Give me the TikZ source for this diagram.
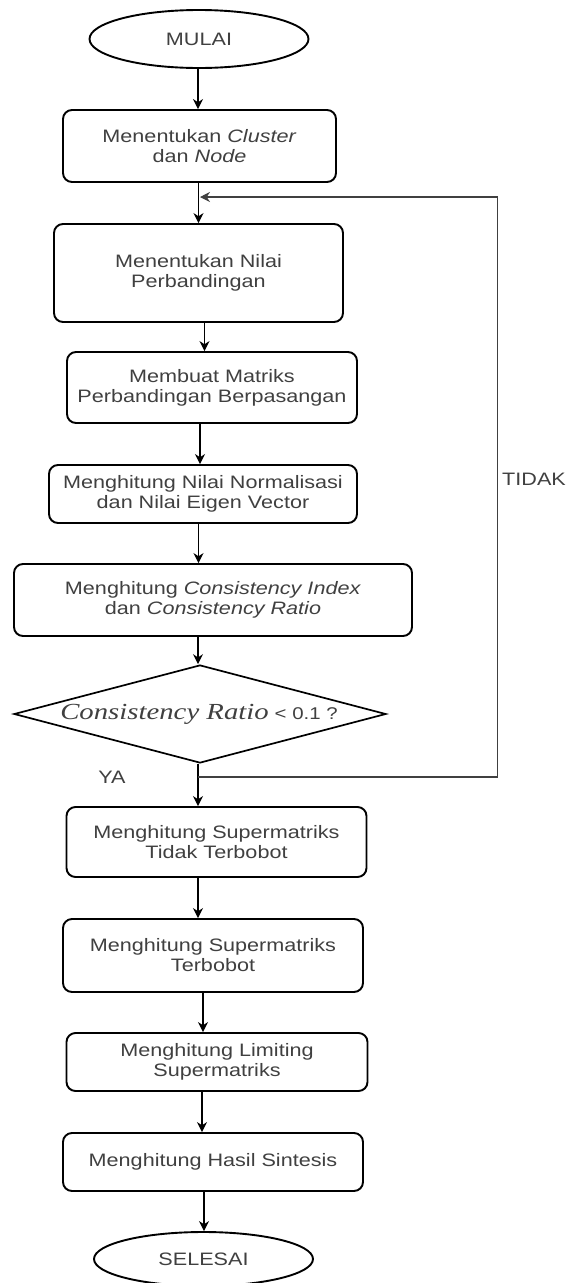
\documentclass[tikz,border=0pt]{standalone}
\usepackage{fontspec}
\setmainfont{Liberation Sans}[FakeStretch=1.2]
\newfontfamily\seriffont{Liberation Serif}[FakeStretch=1.25]
\usetikzlibrary{shapes.geometric,arrows.meta}
\newcommand\fs{\fontsize{18}{20}\selectfont}
\tikzset{
  proc/.style={draw=black, line width=1.9pt, rounded corners=9pt, inner sep=0pt, align=center, text=black!75, font=\fs},
  term/.style={ellipse, draw=black, line width=1.9pt, inner sep=0pt, text=black!75, font=\fs},
  decision/.style={diamond, draw=black, line width=1.7pt, inner sep=0pt},
  arr/.style={-{Stealth[length=10pt,width=10pt]}, line width=1.4pt},
  fb/.style={line width=1.1pt, draw=black!75},
  lbl/.style={text=black!75, font=\fs, inner sep=0pt}
}
\begin{document}
\begin{tikzpicture}[x=1pt,y=-1pt]
\useasboundingbox[fill=white] (0,0) rectangle (566,1283);
\node[term, minimum width=219pt, minimum height=58pt] (m) at (199,39) {MULAI};
\node[proc, minimum width=273pt, minimum height=72pt] (b1) at (199.5,146) {Menentukan \textit{Cluster}\\dan \textit{Node}};
\node[proc, minimum width=289pt, minimum height=98pt] (b2) at (198.5,273) {Menentukan Nilai\\Perbandingan};
\node[proc, minimum width=290pt, minimum height=71pt] (b3) at (212,387.5) {Membuat Matriks\\Perbandingan Berpasangan};
\node[proc, minimum width=308pt, minimum height=58pt] (b4) at (203,494) {Menghitung Nilai Normalisasi\\dan Nilai Eigen Vector};
\node[proc, minimum width=398pt, minimum height=72pt] (b5) at (213,600) {Menghitung \textit{Consistency Index}\\dan \textit{Consistency Ratio}};
\node[decision, minimum width=372pt, minimum height=98pt] (d) at (200,714) {};
\node[lbl] (dl) at (199,714) {{\seriffont\itshape\fontsize{23}{26}\selectfont Consistency Ratio} {\fontsize{17}{18}\selectfont < 0.1 ?}};
\node[proc, minimum width=300pt, minimum height=70pt] (b6) at (216.5,842) {Menghitung Supermatriks\\Tidak Terbobot};
\node[proc, minimum width=300pt, minimum height=73pt] (b7) at (213,955.5) {Menghitung Supermatriks\\Terbobot};
\node[proc, minimum width=301pt, minimum height=58pt] (b8) at (217,1062) {Menghitung Limiting\\Supermatriks};
\node[proc, minimum width=300pt, minimum height=58pt] (b9) at (213,1162) {Menghitung Hasil Sintesis};
\node[term, minimum width=219pt, minimum height=54pt] (s) at (203.5,1259) {SELESAI};

\draw[arr] (198,0 |- m.south) -- (198,0 |- b1.north);
\draw[arr] (198.5,0 |- b1.south) -- (198.5,0 |- b2.north);
\draw[arr] (204.5,0 |- b2.south) -- (204.5,0 |- b3.north);
\draw[arr] (200,0 |- b3.south) -- (200,0 |- b4.north);
\draw[arr] (198.5,0 |- b4.south) -- (198.5,0 |- b5.north);
\draw[arr] (198,0 |- b5.south) -- (198,0 |- d.north);
\draw[arr] (198,0 |- d.south) -- (198,0 |- b6.north);
\draw[arr] (198,0 |- b6.south) -- (198,0 |- b7.north);
\draw[arr] (203,0 |- b7.south) -- (203,0 |- b8.north);
\draw[arr] (202,0 |- b8.south) -- (202,0 |- b9.north);
\draw[arr] (204,0 |- b9.south) -- (204,0 |- s.north);

\coordinate (ya) at (198,777);
\coordinate (rb) at (497.5,777);
\coordinate (rt) at (497.5,197);
\coordinate (lp) at (200,197);
\draw[fb] (ya) -- (rb) -- (rt);
\draw[fb, -{Stealth[length=10pt,width=10pt]}] (rt) -- (lp);
\node[lbl, anchor=west] (tidak) at (502,479) {TIDAK};
\node[lbl] (yalbl) at (112,777) {YA};
\end{tikzpicture}
\end{document}
